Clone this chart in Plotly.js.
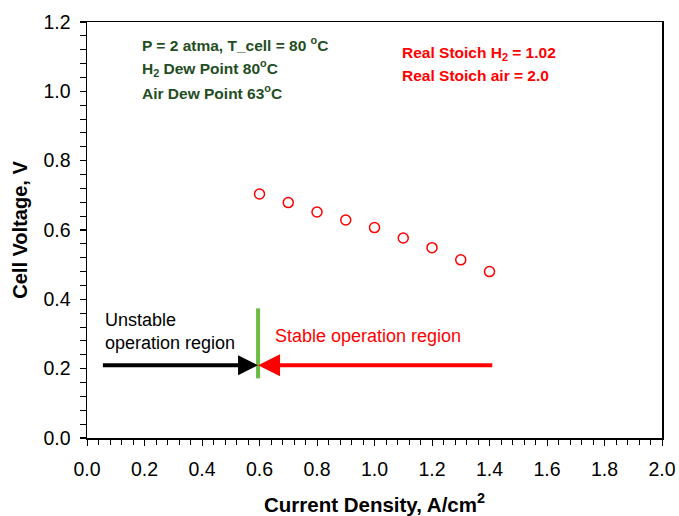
<!DOCTYPE html>
<html>
<head>
<meta charset="utf-8">
<script src="https://cdn.plot.ly/plotly-3.0.1.min.js"></script>
<style>html,body{margin:0;padding:0;background:#fff;}#chart{width:679px;height:516px;}</style>
</head>
<body>
<div id="chart"></div>
<script>
const currentDensity = [0.6, 0.7, 0.8, 0.9, 1.0, 1.1, 1.2, 1.3, 1.4];
const cellVoltage = [0.704, 0.679, 0.652, 0.629, 0.607, 0.577, 0.549, 0.514, 0.480];
const xTickVals = [0, 0.2, 0.4, 0.6, 0.8, 1.0, 1.2, 1.4, 1.6, 1.8, 2.0];
const xTickText = ["0.0", "0.2", "0.4", "0.6", "0.8", "1.0", "1.2", "1.4", "1.6", "1.8", "2.0"];
const yTickVals = [0, 0.2, 0.4, 0.6, 0.8, 1.0, 1.2];
const yTickText = ["0.0", "0.2", "0.4", "0.6", "0.8", "1.0", "1.2"];

const font = "Liberation Sans, Arial, sans-serif";
const darkGreen = "#244d24";

const trace = {
  x: currentDensity, y: cellVoltage, type: "scatter", mode: "markers",
  marker: {symbol: "circle-open", size: 10, color: "#ff0000", line: {width: 1.5, color: "#ff0000"}},
  showlegend: false, hoverinfo: "none"
};

const layout = {
  width: 679, height: 516,
  margin: {l: 87, r: 17, t: 22, b: 78, pad: 0},
  paper_bgcolor: "#fff", plot_bgcolor: "#fff",
  font: {family: font, color: "#000"},
  xaxis: {
    range: [0, 2.0], tickmode: "array", tickvals: xTickVals, ticktext: xTickText,
    ticks: "outside", ticklen: 6, tickwidth: 1, tickcolor: "#000",
    minor: {dtick: 0.04, ticks: "outside", ticklen: 5, tickwidth: 1, tickcolor: "#000"},
    showgrid: false, zeroline: false, showline: true, linecolor: "#000", linewidth: 1.5, mirror: true,
    tickfont: {size: 19.5, family: font, color: "#000"}, ticklabelstandoff: 7,
    title: {text: "<b>Current Density, A/cm<sup>2</sup></b>", font: {size: 20.5, family: font, color: "#000"}, standoff: 20}
  },
  yaxis: {
    range: [0, 1.2], tickmode: "array", tickvals: yTickVals, ticktext: yTickText,
    ticks: "outside", ticklen: 6, tickwidth: 1.5, tickcolor: "#000",
    minor: {dtick: 0.04, ticks: "outside", ticklen: 6, tickwidth: 1, tickcolor: "#000"},
    showgrid: false, zeroline: false, showline: true, linecolor: "#000", linewidth: 1.5, mirror: true,
    tickfont: {size: 19.5, family: font, color: "#000"}, ticklabelstandoff: 5,
    title: {text: "<b>Cell Voltage, V</b>", font: {size: 20, family: font, color: "#000"}, standoff: 10}
  },
  shapes: [
    {type: "line", xref: "x", yref: "y", x0: 0.595, x1: 0.595, y0: 0.172, y1: 0.374,
     line: {color: "#6cbb45", width: 4}}
  ],
  annotations: [
    {xref: "x", yref: "y", x: 0.184, y: 1.136, xanchor: "left", yanchor: "middle", showarrow: false,
     text: "<b>P = 2 atma, T_cell = 80 <sup>o</sup>C</b>", font: {size: 15.5, color: darkGreen, family: font}},
    {xref: "x", yref: "y", x: 0.184, y: 1.068, xanchor: "left", yanchor: "middle", showarrow: false,
     text: "<b>H<sub>2</sub> Dew Point 80<sup>o</sup>C</b>", font: {size: 15.5, color: darkGreen, family: font}},
    {xref: "x", yref: "y", x: 0.184, y: 0.997, xanchor: "left", yanchor: "middle", showarrow: false,
     text: "<b>Air Dew Point 63<sup>o</sup>C</b>", font: {size: 15.5, color: darkGreen, family: font}},
    {xref: "x", yref: "y", x: 1.089, y: 1.108, xanchor: "left", yanchor: "middle", showarrow: false,
     text: "<b>Real Stoich H<sub>2</sub> = 1.02</b>", font: {size: 15.5, color: "#ff0000", family: font}},
    {xref: "x", yref: "y", x: 1.089, y: 1.045, xanchor: "left", yanchor: "middle", showarrow: false,
     text: "<b>Real Stoich air = 2.0</b>", font: {size: 15.5, color: "#ff0000", family: font}},
    {xref: "x", yref: "y", x: 0.056, y: 0.306, xanchor: "left", yanchor: "middle", showarrow: false, align: "left",
     text: "Unstable<br>operation region", font: {size: 18, color: "#000", family: font}},
    {xref: "x", yref: "y", x: 0.647, y: 0.294, xanchor: "left", yanchor: "middle", showarrow: false,
     text: "Stable operation region", font: {size: 18, color: "#ff0000", family: font}},
    {xref: "x", yref: "y", axref: "x", ayref: "y", x: 0.595, y: 0.21, ax: 0.05, ay: 0.21,
     showarrow: true, arrowhead: 2, arrowsize: 1, arrowwidth: 4, arrowcolor: "#000", text: ""},
    {xref: "x", yref: "y", axref: "x", ayref: "y", x: 0.595, y: 0.21, ax: 1.415, ay: 0.21,
     showarrow: true, arrowhead: 2, arrowsize: 1.1, arrowwidth: 4, arrowcolor: "#ff0000", text: ""}
  ]
};

Plotly.newPlot("chart", [trace], layout, {displayModeBar: false, staticPlot: true});
</script>
</body>
</html>
